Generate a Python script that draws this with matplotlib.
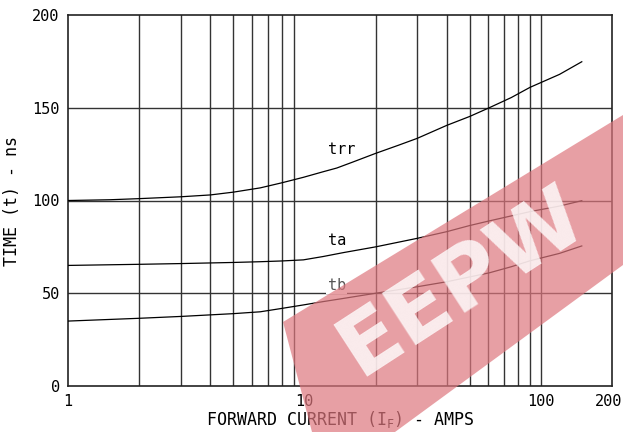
import matplotlib
matplotlib.use("Agg")
import matplotlib.pyplot as plt
import matplotlib.transforms as mtrans
from matplotlib.patches import Polygon

# forward current (A) and times (ns)
trr_x = [1, 1.5, 2, 3, 4, 5, 6.5, 8, 9.9, 12, 13.7, 16, 20, 25, 30, 40, 50, 60.5, 75, 90, 120, 149]
trr_y = [100, 100.4, 101, 102, 103, 104.5, 106.8, 109.5, 112.5, 115.5, 117.5, 120.7, 125.4, 129.8, 133.5, 140.5, 145.3, 150, 155.5, 161, 168, 174.8]
ta_x = [1, 2, 3, 5, 6.5, 8, 9.9, 12, 14.6, 20, 30, 40, 50, 60.5, 75, 90, 120, 149]
ta_y = [65, 65.6, 66, 66.6, 67, 67.4, 68, 69.8, 71.9, 75, 79.6, 83.2, 86.5, 89, 91.7, 94, 97, 99.9]
tb_x = [1, 2, 3, 5, 6.5, 8, 9.9, 12, 14.6, 20, 30, 40, 60.5, 75, 90, 120, 149]
tb_y = [35, 36.5, 37.5, 39, 40, 41.8, 43.7, 45.5, 47.2, 50, 53.5, 56.2, 61, 64.3, 67.5, 71.5, 75.5]

labels = {"trr": (14.4, 127.6), "ta": (13.7, 78.7), "tb": (13.7, 54.4)}
yticks = [0, 50, 100, 150, 200]
xticks = [1, 10, 100, 200]

mono = ["DejaVu Sans Mono"]
W, H = 623, 432

fig = plt.figure(figsize=(W / 100, H / 100), dpi=100)
ax = fig.add_axes([68 / W, 46 / H, 544 / W, 371 / H])
ax.set_xscale("log")
ax.set_xlim(1, 200)
ax.set_ylim(0, 200)

# grid
for d in [1, 10]:
    for k in range(2, 10):
        ax.axvline(k * d, color="#333333", lw=1.0, zorder=1)
ax.axvline(100, color="#333333", lw=1.0, zorder=1)
for yv in [50, 100, 150]:
    ax.axhline(yv, color="#333333", lw=1.0, zorder=1)

ax.plot(trr_x, trr_y, color="black", lw=0.9, zorder=3)
ax.plot(ta_x, ta_y, color="black", lw=0.9, zorder=3)
ax.plot(tb_x, tb_y, color="black", lw=0.9, zorder=3)

for name, (lx, ly) in labels.items():
    ax.text(lx, ly, name, family=mono, fontsize=11, ha="center", va="center", zorder=4,
            color="#555555" if name == "tb" else "black",
            bbox=dict(facecolor="white", edgecolor="none", pad=1) if name == "tb" else None)

ax.set_xticks(xticks)
ax.set_xticklabels([str(v) for v in xticks], family=mono, fontsize=11)
ax.set_yticks(yticks)
ax.set_yticklabels([str(v) for v in yticks], family=mono, fontsize=11)
ax.minorticks_off()
ax.tick_params(length=0, pad=6)
last = ax.get_xticklabels()[-1]
last.set_horizontalalignment("right")
last.set_transform(last.get_transform() + mtrans.ScaledTranslation(0.1, 0, fig.dpi_scale_trans))
for s in ax.spines.values():
    s.set_color("#222222")
    s.set_linewidth(1.2)

ax.set_xlabel("FORWARD CURRENT (I$_\\mathregular{F}$) - AMPS", family=mono, fontsize=12, labelpad=0)
ax.set_ylabel("TIME (t) - ns", family=mono, fontsize=12, labelpad=8)

# watermark band with white letters
band = [(283, 322), (623, 115), (623, 265), (395, 432), (312, 432)]
band = [(px / W, 1 - py / H) for px, py in band]
fig.patches.append(Polygon(band, closed=True, transform=fig.transFigure,
                           facecolor="#de777e", edgecolor="none", alpha=0.7, zorder=10))
fig.text(462 / W, 1 - 282 / H, "EEPW", fontsize=62, fontweight="bold", color="white",
         alpha=0.8, rotation=33, ha="center", va="center", zorder=11)

fig.savefig("out.png", dpi=100)
